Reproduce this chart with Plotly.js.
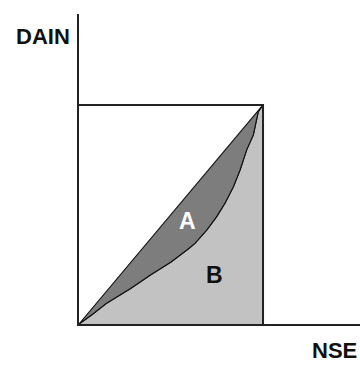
<!DOCTYPE html>
<html>
<head>
<meta charset="utf-8">
<script src="https://cdn.plot.ly/plotly-3.0.1.min.js"></script>
<style>
html,body{margin:0;padding:0;background:#fff;}
#chart{width:360px;height:367px;}
</style>
</head>
<body>
<div id="chart"></div>
<script>
// curva (NSE acumulado vs DAIN acumulado)
let curvaX=[0,7,15,28,39,50,60,63,69.4,74.8,79.3,83.9,87.5,91.1,94.7,97.4,100];
let curvaY=[0,4.2,9.5,16.2,22.5,28.3,34.7,36.8,42.9,49.0,55.1,62.7,70.3,79.5,86.3,96.9,100];

// linea de igualdad
let diagX=[0,100];
let diagY=[0,100];

// caja
let cajaX=[0,100,100];
let cajaY=[100,100,0];

let etiquetas=["A","B"];
let ejeX="NSE";
let ejeY="DAIN";

// zona A: entre diagonal y curva
let zonaAX=diagX.concat(curvaX.slice().reverse());
let zonaAY=diagY.concat(curvaY.slice().reverse());

let fuente="Liberation Sans, Arial, sans-serif";

Plotly.newPlot(
"chart",
[
{
x:curvaX,
y:curvaY,
type:"scatter",
mode:"lines",
fill:"tozeroy",
fillcolor:"#c2c2c2",
line:{color:"#111",width:1.3},
hoverinfo:"skip"
},
{
x:zonaAX,
y:zonaAY,
type:"scatter",
mode:"lines",
fill:"toself",
fillcolor:"#7d7d7d",
line:{color:"#111",width:1.1},
hoverinfo:"skip"
},
{
x:cajaX,
y:cajaY,
type:"scatter",
mode:"lines",
line:{color:"#222",width:2},
hoverinfo:"skip"
}
],
{
width:360,
height:367,
showlegend:false,
paper_bgcolor:"#fff",
plot_bgcolor:"#fff",
margin:{l:79,r:0,t:14,b:43},
xaxis:{
range:[0,152.7],
showgrid:false,
zeroline:false,
showticklabels:false,
ticks:"",
showline:true,
linecolor:"#222",
linewidth:2,
fixedrange:true
},
yaxis:{
range:[0,141.5],
showgrid:false,
zeroline:false,
showticklabels:false,
ticks:"",
showline:true,
linecolor:"#222",
linewidth:2,
fixedrange:true
},
annotations:[
{
x:59,y:47,
text:"<b>"+etiquetas[0]+"</b>",
showarrow:false,
font:{family:fuente,size:23,color:"#fff"}
},
{
x:73.6,y:22.4,
text:"<b>"+etiquetas[1]+"</b>",
showarrow:false,
font:{family:fuente,size:23,color:"#111"}
},
{
xref:"paper",yref:"paper",
x:-0.128,y:0.926,
xanchor:"center",yanchor:"middle",
text:"<b>"+ejeY+"</b>",
showarrow:false,
font:{family:fuente,size:22,color:"#111"}
},
{
xref:"paper",yref:"paper",
x:0.822,y:-0.087,
xanchor:"left",yanchor:"middle",
text:"<b>"+ejeX+"</b>",
showarrow:false,
font:{family:fuente,size:22,color:"#111"}
}
]
},
{staticPlot:true}
);
</script>
</body>
</html>
